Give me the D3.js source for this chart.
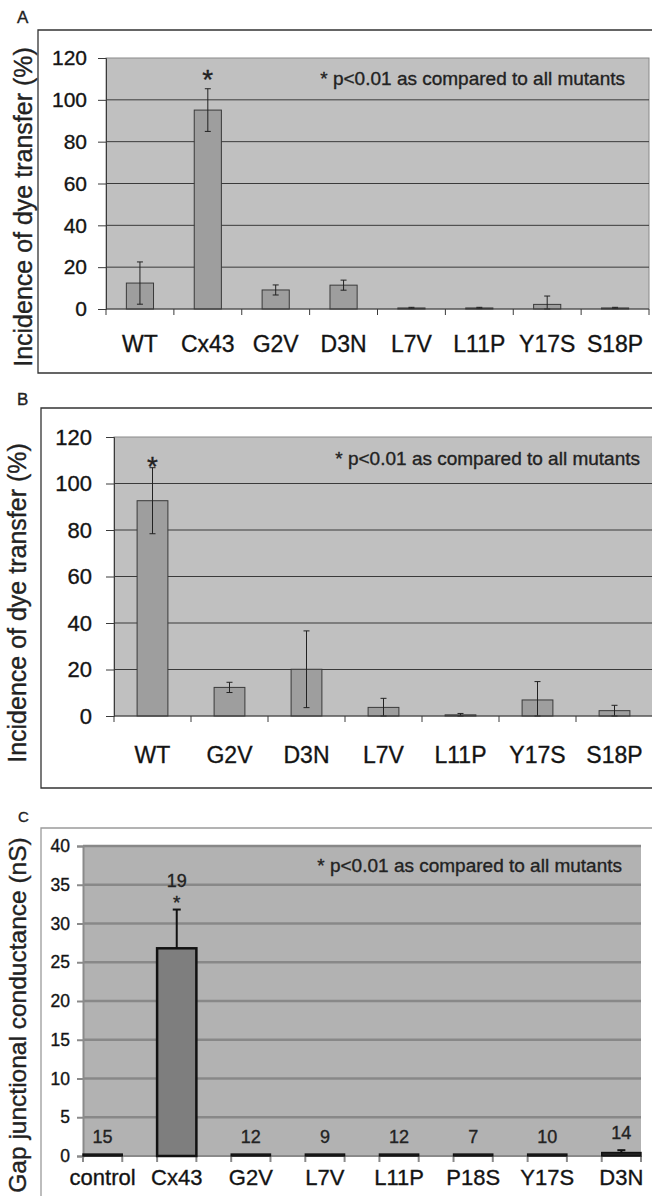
<!DOCTYPE html>
<html>
<head>
<meta charset="utf-8">
<script src="https://cdn.jsdelivr.net/npm/d3@7"></script>
<style>
  body { margin: 0; background: #fff; }
  svg { display: block; font-family: "Liberation Sans", Arial, sans-serif; }
  svg text { stroke: #222; stroke-width: 0.35px; }
</style>
</head>
<body>
<svg id="chart" width="652" height="1196"></svg>
<script>
// Panel A - dye transfer with Cx43
const catsA = ['WT', 'Cx43', 'G2V', 'D3N', 'L7V', 'L11P', 'Y17S', 'S18P'];
const valsA = [12.4, 95.1, 9.1, 11.4, 0.5, 0.5, 2.2, 0.5];
const errA = [10.1, 10.2, 2.4, 2.4, 0.3, 0.3, 4.0, 0.3];
const starA = ['Cx43'];

// Panel B - dye transfer, WT reference
const catsB = ['WT', 'G2V', 'D3N', 'L7V', 'L11P', 'Y17S', 'S18P'];
const valsB = [92.6, 12.3, 20.1, 3.7, 0.5, 6.9, 2.3];
const errB = [14.2, 2.2, 16.5, 3.9, 0.6, 7.9, 2.3];
const starB = ['WT'];

// Panel C - gap junctional conductance
const catsC = ['control', 'Cx43', 'G2V', 'L7V', 'L11P', 'P18S', 'Y17S', 'D3N'];
const valsC = [0.25, 26.8, 0.25, 0.25, 0.25, 0.25, 0.25, 0.45];
const errC = [0, 5.0, 0, 0, 0, 0, 0, 0.3];
const countsC = [15, 19, 12, 9, 12, 7, 10, 14];
const starC = ['Cx43'];

const ticksAB = [0, 20, 40, 60, 80, 100, 120];
const ticksC = [0, 5, 10, 15, 20, 25, 30, 35, 40];
const note = '* p<0.01 as compared to all mutants';

const svg = d3.select('#chart');

/**
 * Outer chart frame (open at the right like the scan)
 */
function drawFrame(f, color) {
    svg.append('path')
        .attr('d', `M660,${f.top}H${f.left}V${f.bottom}H660`)
        .attr('fill', 'none')
        .attr('stroke', color)
        .attr('stroke-width', 1.3);
}

/**
 * Dye transfer panels (A and B)
 */
function drawDyePanel(o) {
    drawFrame(o.frame, '#333');

    svg.append('text')
        .attr('x', 17).attr('y', o.letterY)
        .style('font-size', '17px').style('fill', '#222')
        .text(o.letter);

    const x = d3.scaleBand()
        .domain(o.cats)
        .range([o.plot.left, o.plot.right])
        .paddingInner(0.6)
        .paddingOuter(0.3);

    const y = d3.scaleLinear()
        .domain([0, 120])
        .range([o.plot.bottom, o.plot.top]);

    // plot background
    svg.append('rect')
        .attr('x', o.plot.left).attr('y', o.plot.top)
        .attr('width', o.plot.right - o.plot.left)
        .attr('height', o.plot.bottom - o.plot.top)
        .attr('fill', '#c0c0c0')
        .attr('stroke', '#8a8a8a');

    // gridlines
    svg.append('g').selectAll('line')
        .data(o.ticks.filter(t => t > 0 && t < 120))
        .enter().append('line')
        .attr('x1', o.plot.left).attr('x2', o.plot.right)
        .attr('y1', d => y(d)).attr('y2', d => y(d))
        .attr('stroke', '#3a3a3a').attr('stroke-width', 1);

    // bars
    svg.append('g').selectAll('rect')
        .data(o.vals)
        .enter().append('rect')
        .attr('x', (d, i) => x(o.cats[i]))
        .attr('y', d => y(d))
        .attr('width', x.bandwidth())
        .attr('height', d => y(0) - y(d))
        .attr('fill', '#9e9e9e')
        .attr('stroke', '#3a3a3a').attr('stroke-width', 1);

    // error bars
    const eb = svg.append('g').attr('stroke', '#222').attr('stroke-width', 1);
    o.vals.forEach((v, i) => {
        const cx = x(o.cats[i]) + x.bandwidth() / 2;
        const hi = y(v + o.errs[i]);
        const lo = y(Math.max(v - o.errs[i], 0));
        eb.append('line').attr('x1', cx).attr('x2', cx).attr('y1', hi).attr('y2', lo);
        eb.append('line').attr('x1', cx - 3).attr('x2', cx + 3).attr('y1', hi).attr('y2', hi);
        eb.append('line').attr('x1', cx - 3).attr('x2', cx + 3).attr('y1', lo).attr('y2', lo);
    });

    // significance star
    o.stars.forEach(c => {
        const i = o.cats.indexOf(c);
        svg.append('text')
            .attr('x', x(c) + x.bandwidth() / 2)
            .attr('y', y(o.vals[i] + o.errs[i]) + o.starDy)
            .attr('text-anchor', 'middle')
            .style('font-size', '28px').style('fill', '#222')
            .text('*');
    });

    // y axis
    const yAxis = svg.append('g')
        .attr('transform', `translate(${o.plot.left},0)`)
        .call(d3.axisLeft(y).tickValues(o.ticks).tickSize(8).tickPadding(o.tickPad));
    yAxis.select('.domain').attr('stroke', '#3a3a3a');
    yAxis.selectAll('.tick line').attr('stroke', '#3a3a3a');
    yAxis.selectAll('.tick text')
        .style('font-size', o.tickFont + 'px')
        .style('font-family', '"Liberation Sans", Arial, sans-serif')
        .attr('fill', '#111');

    // x axis line + category separators
    svg.append('line')
        .attr('x1', o.plot.left).attr('x2', o.plot.right)
        .attr('y1', y(0)).attr('y2', y(0))
        .attr('stroke', '#3a3a3a');
    svg.append('g').selectAll('line')
        .data(d3.range(o.cats.length + 1))
        .enter().append('line')
        .attr('x1', d => o.plot.left + d * x.step())
        .attr('x2', d => o.plot.left + d * x.step())
        .attr('y1', y(0)).attr('y2', y(0) + 6)
        .attr('stroke', '#3a3a3a');

    svg.append('g').selectAll('text')
        .data(o.cats)
        .enter().append('text')
        .attr('x', d => x(d) + x.bandwidth() / 2)
        .attr('y', o.catY)
        .attr('text-anchor', 'middle')
        .style('font-size', '23px').style('fill', '#111')
        .text(d => d);

    svg.append('text')
        .attr('x', o.noteX).attr('y', o.noteY)
        .attr('text-anchor', 'end')
        .style('font-size', '19px').style('fill', '#222')
        .text(note);

    svg.append('text')
        .attr('transform', `translate(${o.titleX},${o.titleY}) rotate(-90)`)
        .attr('text-anchor', 'middle')
        .style('font-size', '25px').style('fill', '#222')
        .text('Incidence of dye transfer (%)');
}

/**
 * Conductance panel (C)
 */
function drawConductancePanel() {
    const plot = { left: 83, right: 641, top: 846, bottom: 1156 };
    drawFrame({ left: 41, top: 828, bottom: 1210 }, '#9a9a9a');

    svg.append('text')
        .attr('x', 18).attr('y', 822)
        .style('font-size', '15px').style('fill', '#222')
        .text('C');

    const x = d3.scaleBand()
        .domain(catsC)
        .range([plot.left, plot.right])
        .paddingInner(0.47)
        .paddingOuter(0);

    const y = d3.scaleLinear()
        .domain([0, 40])
        .range([plot.bottom, plot.top]);

    svg.append('rect')
        .attr('x', plot.left).attr('y', plot.top)
        .attr('width', plot.right - plot.left)
        .attr('height', plot.bottom - plot.top)
        .attr('fill', '#b2b2b2');

    svg.append('g').selectAll('line')
        .data(ticksC.filter(t => t > 0))
        .enter().append('line')
        .attr('x1', plot.left).attr('x2', plot.right)
        .attr('y1', d => y(d)).attr('y2', d => y(d))
        .attr('stroke', '#888').attr('stroke-width', 2.5);

    // y axis
    const yAxis = svg.append('g')
        .attr('transform', `translate(${plot.left},0)`)
        .call(d3.axisLeft(y).tickValues(ticksC).tickSize(6).tickPadding(7));
    yAxis.select('.domain').attr('stroke', '#8a8a8a').attr('stroke-width', 2);
    yAxis.selectAll('.tick line').attr('stroke', '#8a8a8a').attr('stroke-width', 2);
    yAxis.selectAll('.tick text')
        .style('font-size', '17.5px')
        .style('font-family', '"Liberation Sans", Arial, sans-serif')
        .attr('fill', '#111');

    // x axis with ticks at bar edges
    svg.append('line')
        .attr('x1', plot.left).attr('x2', plot.right)
        .attr('y1', y(0)).attr('y2', y(0))
        .attr('stroke', '#8a8a8a').attr('stroke-width', 2);
    const edges = [];
    catsC.forEach(c => { edges.push(x(c), x(c) + x.bandwidth()); });
    svg.append('g').selectAll('line')
        .data(edges)
        .enter().append('line')
        .attr('x1', d => d).attr('x2', d => d)
        .attr('y1', y(0)).attr('y2', y(0) + 6)
        .attr('stroke', '#8a8a8a').attr('stroke-width', 2);

    // bars (tiny ones read as solid dark strokes)
    svg.append('g').selectAll('rect')
        .data(valsC)
        .enter().append('rect')
        .attr('x', (d, i) => x(catsC[i]))
        .attr('y', d => y(d))
        .attr('width', x.bandwidth())
        .attr('height', d => y(0) - y(d))
        .attr('fill', d => (d > 5 ? '#7e7e7e' : '#222'))
        .attr('stroke', '#111')
        .attr('stroke-width', d => (d > 5 ? 2.5 : 1.4));

    // upward error bars
    const eb = svg.append('g').attr('stroke', '#111').attr('stroke-width', 2);
    valsC.forEach((v, i) => {
        if (!errC[i]) return;
        const cx = x(catsC[i]) + x.bandwidth() / 2;
        const hi = y(v + errC[i]);
        eb.append('line').attr('x1', cx).attr('x2', cx).attr('y1', hi).attr('y2', y(v));
        eb.append('line').attr('x1', cx - 4).attr('x2', cx + 4).attr('y1', hi).attr('y2', hi);
    });

    // n per bar, plus star
    svg.append('g').selectAll('text')
        .data(countsC)
        .enter().append('text')
        .attr('x', (d, i) => x(catsC[i]) + x.bandwidth() / 2)
        .attr('y', (d, i) => y(valsC[i] + errC[i]) - (starC.includes(catsC[i]) ? 23 : 11))
        .attr('text-anchor', 'middle')
        .style('font-size', '18px').style('fill', '#222')
        .text(d => d);
    starC.forEach(c => {
        const i = catsC.indexOf(c);
        svg.append('text')
            .attr('x', x(c) + x.bandwidth() / 2)
            .attr('y', y(valsC[i] + errC[i]) - 1)
            .attr('text-anchor', 'middle')
            .style('font-size', '19px').style('fill', '#222')
            .text('*');
    });

    svg.append('g').selectAll('text.cat')
        .data(catsC)
        .enter().append('text')
        .attr('x', d => x(d) + x.bandwidth() / 2)
        .attr('y', 1185)
        .attr('text-anchor', 'middle')
        .style('font-size', '22px').style('fill', '#111')
        .text(d => d);

    svg.append('text')
        .attr('x', 622).attr('y', 872)
        .attr('text-anchor', 'end')
        .style('font-size', '19px').style('fill', '#222')
        .text(note);

    svg.append('text')
        .attr('transform', 'translate(26,1015) rotate(-90)')
        .attr('text-anchor', 'middle')
        .style('font-size', '24.5px').style('fill', '#222')
        .text('Gap junctional conductance (nS)');
}

drawDyePanel({
    letter: 'A', letterY: 23,
    cats: catsA, vals: valsA, errs: errA, stars: starA, starDy: 0,
    ticks: ticksAB, tickFont: 21, tickPad: 11,
    frame: { left: 38, top: 30, bottom: 373 },
    plot: { left: 106, right: 649, top: 58, bottom: 309 },
    catY: 352, noteX: 625, noteY: 85,
    titleX: 32, titleY: 207
});

drawDyePanel({
    letter: 'B', letterY: 405,
    cats: catsB, vals: valsB, errs: errB, stars: starB, starDy: 8,
    ticks: ticksAB, tickFont: 22, tickPad: 14,
    frame: { left: 41, top: 408, bottom: 788 },
    plot: { left: 114, right: 653, top: 437, bottom: 716 },
    catY: 763, noteX: 640, noteY: 465,
    titleX: 26, titleY: 603
});

drawConductancePanel();
</script>
</body>
</html>
